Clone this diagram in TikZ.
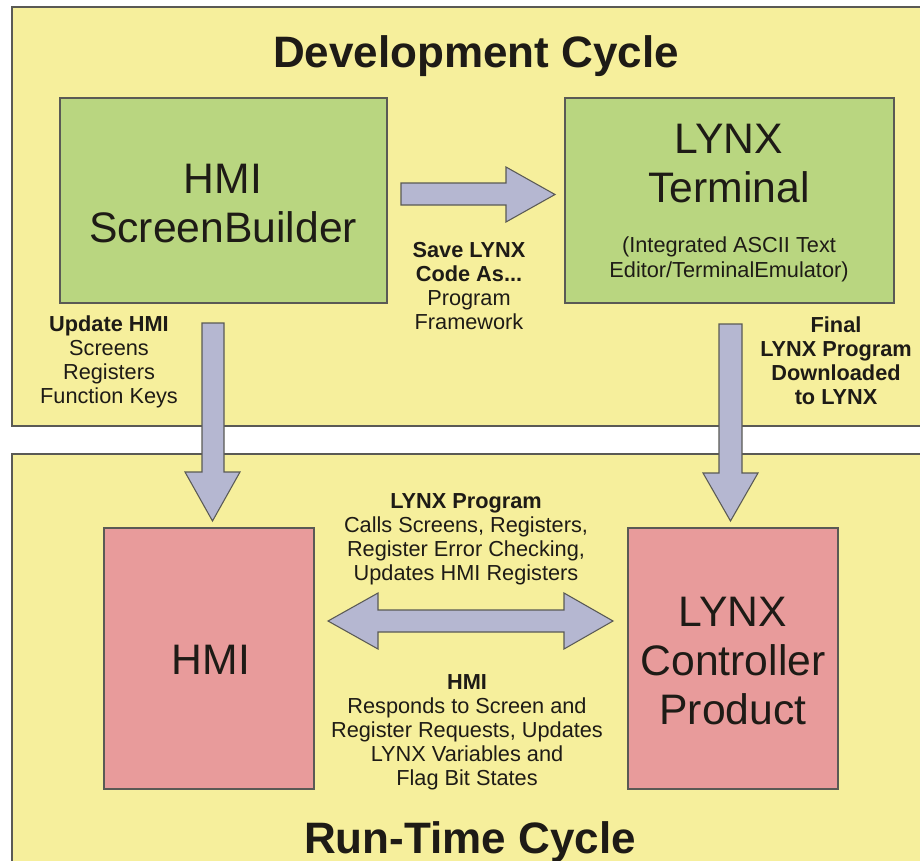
\documentclass[tikz,border=0pt]{standalone}
\usepackage{fontspec}
\setmainfont{Liberation Sans}
\definecolor{panelY}{HTML}{F6EF9C}
\definecolor{boxG}{HTML}{B9D680}
\definecolor{boxR}{HTML}{E89B9B}
\definecolor{arrowB}{HTML}{B5B7D1}
\definecolor{edgeC}{HTML}{5A5A55}
\definecolor{txt}{HTML}{1E1B16}
\begin{document}
\begin{tikzpicture}[x=0.75pt,y=-0.75pt,
  panel/.style={fill=panelY,draw=edgeC,line width=1.2pt},
  gbox/.style={fill=boxG,draw=edgeC,line width=0.8pt,inner sep=0pt},
  rbox/.style={fill=boxR,draw=edgeC,line width=0.8pt,inner sep=0pt},
  blockarrow/.style={fill=arrowB,draw=edgeC,line width=0.8pt,line join=miter},
  title/.style={font=\fontsize{33}{36}\selectfont\bfseries,text=txt,anchor=base,inner sep=0pt},
  big/.style={font=\fontsize{32}{37}\selectfont,text=txt,anchor=base,inner sep=0pt},
  lbl/.style={font=\fontsize{16.3}{18}\selectfont,text=txt,anchor=base,inner sep=0pt},
  blbl/.style={font=\fontsize{16.3}{18}\selectfont\bfseries,text=txt,anchor=base,inner sep=0pt}]
\useasboundingbox (0,0) rectangle (920,860);
\clip (0,0) rectangle (920,860);
% panels
\draw[panel] (12,7) rectangle (940,426);
\draw[panel] (12,454) rectangle (940,890);
% boxes
\node[gbox,minimum width=245.25pt,minimum height=153.75pt] (sb) at (223.5,200.5) {};
\node[gbox,minimum width=246.75pt,minimum height=153.75pt] (term) at (729.5,200.5) {};
\node[rbox,minimum width=157.5pt,minimum height=195.75pt] (hmi) at (209,658.5) {};
\node[rbox,minimum width=157.5pt,minimum height=195.75pt] (ctrl) at (733,658.5) {};
% titles
\node[title] (t1) at (476,67) {Development Cycle};
\node[title] (t2) at (470,853) {Run-Time Cycle};
% box texts
\node[big] (sb1) at (223,193) {HMI};
\node[big] (sb2) at (223,242) {ScreenBuilder};
\node[big] (te1) at (729,153) {LYNX};
\node[big] (te2) at (729,202) {Terminal};
\node[lbl] (te3) at (729,252) {(Integrated ASCII Text};
\node[lbl] (te4) at (729,277) {Editor/TerminalEmulator)};
\node[big] (hm1) at (211,674) {HMI};
\node[big] (ct1) at (733,626) {LYNX};
\node[big] (ct2) at (733,675) {Controller};
\node[big] (ct3) at (733,724) {Product};
% labels
\node[blbl] (u1) at (109,331) {Update HMI};
\node[lbl] (u2) at (109,355) {Screens};
\node[lbl] (u3) at (109,379) {Registers};
\node[lbl] (u4) at (109,403) {Function Keys};
\node[blbl] (s1) at (469,257) {Save LYNX};
\node[blbl] (s2) at (469,281) {Code As...};
\node[lbl] (s3) at (469,305) {Program};
\node[lbl] (s4) at (469,329) {Framework};
\node[blbl] (f1) at (836,332) {Final};
\node[blbl] (f2) at (836,356) {LYNX Program};
\node[blbl] (f3) at (836,380) {Downloaded};
\node[blbl] (f4) at (836,404) {to LYNX};
\node[blbl] (p1) at (466,508) {LYNX Program};
\node[lbl] (p2) at (466,532) {Calls Screens, Registers,};
\node[lbl] (p3) at (466,556) {Register Error Checking,};
\node[lbl] (p4) at (466,580) {Updates HMI Registers};
\node[blbl] (h1) at (467,689) {HMI};
\node[lbl] (h2) at (467,713) {Responds to Screen and};
\node[lbl] (h3) at (467,737) {Register Requests, Updates};
\node[lbl] (h4) at (467,761) {LYNX Variables and};
\node[lbl] (h5) at (467,785) {Flag Bit States};
% block arrows
\draw[blockarrow] (401,183) -- (506,183) -- (506,167) -- (555,194.5) -- (506,222) -- (506,205) -- (401,205) -- cycle;
\draw[blockarrow] (202,323) -- (224,323) -- (224,472) -- (240,472) -- (212.5,521) -- (185,472) -- (202,472) -- cycle;
\draw[blockarrow] (719,324) -- (742,324) -- (742,473) -- (758,473) -- (730.5,521) -- (703,473) -- (719,473) -- cycle;
\draw[blockarrow] (328,621) -- (378,593) -- (378,610) -- (564,610) -- (564,593) -- (613,621) -- (564,649) -- (564,632) -- (378,632) -- (378,649) -- cycle;
\end{tikzpicture}
\end{document}
